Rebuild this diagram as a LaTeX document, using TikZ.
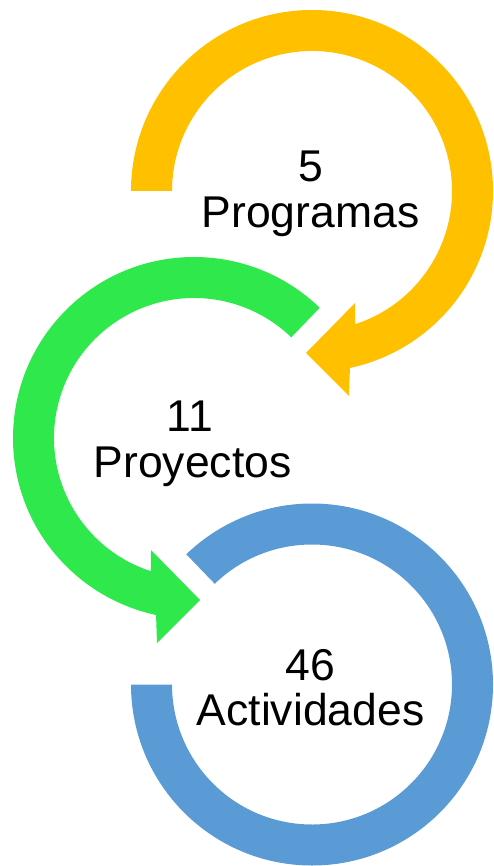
\documentclass[tikz,border=0pt]{standalone}
\usepackage{fontspec}
\setmainfont{Liberation Sans}
\usetikzlibrary{calc}
\definecolor{cyel}{RGB}{255,192,0}
\definecolor{cgrn}{RGB}{46,232,76}
\definecolor{cblu}{RGB}{91,155,213}
\begin{document}
\begin{tikzpicture}[x=1pt,y=-1pt,
  lbl/.style={font=\fontsize{44.5}{50}\selectfont, anchor=base, inner sep=0pt, text=black}]
\useasboundingbox (0,0) rectangle (494,866);
\coordinate (Y) at (312,191);
\coordinate (G) at (194,438);
\coordinate (B) at (312,684.5);
% yellow arrow
\fill[cyel] ($(Y)+(180:181)$) arc[start angle=180,end angle=437.9,radius=181]
  -- ($(Y)+(37,205)$) -- ($(Y)+(-6,162)$) -- ($(Y)+(43,112)$)
  -- ($(Y)+(72.1:140)$) arc[start angle=72.1,end angle=-180,radius=140] -- cycle;
% green arrow
\fill[cgrn] ($(G)+(-46:181)$) arc[start angle=-46,end angle=-257.9,radius=181]
  -- ($(G)+(-37,205)$) -- ($(G)+(6,162)$) -- ($(G)+(-43,112)$)
  -- ($(G)+(-252.1:140)$) arc[start angle=-252.1,end angle=-46,radius=140] -- cycle;
% blue ring
\fill[cblu] ($(B)+(180:181)$) arc[start angle=180,end angle=-134,radius=181]
  -- ($(B)+(-134:140)$) arc[start angle=-134,end angle=180,radius=140] -- cycle;
% labels
\node[lbl] (n5) at (311,182) {5};
\node[lbl] (nprog) at (310.5,228) {Programas};
\node[lbl] (n11) at (190,431) {11};
\node[lbl] (nproy) at (192.5,477) {Proyectos};
\node[lbl] (n46) at (310.5,680) {46};
\node[lbl] (nact) at (310.5,725) {Actividades};
\end{tikzpicture}
\end{document}
